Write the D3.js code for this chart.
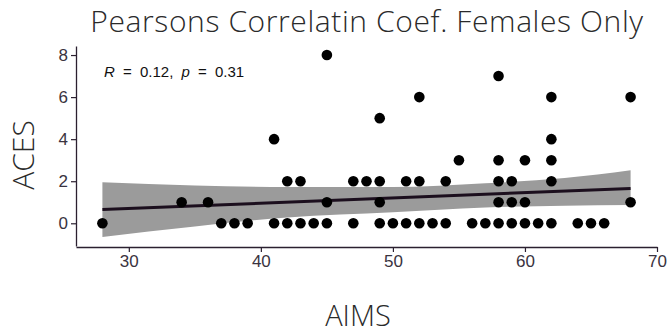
<!doctype html>
<html>
  <head>
    <meta charset="utf-8">
    <title>Pearsons Correlatin Coef. Females Only</title>
    <style>
      body { margin: 0; background: #fff; }
      .tick text { font-family: "Liberation Sans", Arial, sans-serif; font-size: 17px; fill: #3a3340; }
      .label { font-family: "Open Sans", sans-serif; font-weight: 300; fill: #2a2a2a; }
    </style>
    <script src="https://cdnjs.cloudflare.com/ajax/libs/d3/7.8.5/d3.min.js"></script>
  </head>
  <body>
    <div id="chart"></div>
    <script>
      // AIMS (x) and ACES (y) for each respondent
      const aims = [28, 37, 38, 39, 41, 42, 43, 44, 45, 47, 49, 50, 51, 52, 53, 54, 56, 57, 58, 59, 60, 61, 62, 64, 65, 66,
                    34, 36, 45, 49, 58, 59, 60, 68,
                    42, 43, 47, 48, 49, 51, 52, 54, 58, 59, 62,
                    55, 58, 60, 62,
                    41, 62,
                    49,
                    52, 62, 68,
                    58,
                    45];
      const aces = [0, 0, 0, 0, 0, 0, 0, 0, 0, 0, 0, 0, 0, 0, 0, 0, 0, 0, 0, 0, 0, 0, 0, 0, 0, 0,
                    1, 1, 1, 1, 1, 1, 1, 1,
                    2, 2, 2, 2, 2, 2, 2, 2, 2, 2, 2,
                    3, 3, 3, 3,
                    4, 4,
                    5,
                    6, 6, 6,
                    7,
                    8];

      // linear fit and its 95% band
      const fitX = [28, 68];
      const fitY = [0.65, 1.66];
      const bandX = [28, 35, 42, 50, 57, 63, 68];
      const bandLo = [-0.65, -0.15, 0.28, 0.52, 0.75, 0.83, 0.87];
      const bandHi = [1.95, 1.8, 1.72, 1.72, 1.9, 2.15, 2.52];

      const xTicks = [30, 40, 50, 60, 70];
      const yTicks = [0, 2, 4, 6, 8];

      const width = 668, height = 333;
      const svg = d3.select('#chart').append('svg')
        .attr('width', width)
        .attr('height', height);

      const x = d3.scaleLinear().domain([26, 70]).range([76, 657]);
      const y = d3.scaleLinear().domain([-1.08, 8.43]).range([246, 46]);

      const band = bandX.map((v, i) => ({ x: v, lo: bandLo[i], hi: bandHi[i] }));
      svg.append('path')
        .datum(band)
        .attr('fill', '#9b9b9b')
        .attr('d', d3.area()
          .curve(d3.curveMonotoneX)
          .x(d => x(d.x))
          .y0(d => y(d.lo))
          .y1(d => y(d.hi)));

      svg.append('line')
        .attr('x1', x(fitX[0])).attr('y1', y(fitY[0]))
        .attr('x2', x(fitX[1])).attr('y2', y(fitY[1]))
        .attr('stroke', '#1c0f1e')
        .attr('stroke-width', 3);

      svg.selectAll('circle')
        .data(aims)
        .enter()
        .append('circle')
        .attr('cx', d => x(d))
        .attr('cy', (d, i) => y(aces[i]))
        .attr('r', 5.3)
        .attr('fill', '#000');

      const xAxis = svg.append('g')
        .attr('transform', 'translate(0,247)')
        .call(d3.axisBottom(x).tickValues(xTicks).tickSize(5).tickPadding(3).tickSizeOuter(0));
      const yAxis = svg.append('g')
        .attr('transform', 'translate(76,0)')
        .call(d3.axisLeft(y).tickValues(yTicks).tickSize(5).tickPadding(3).tickSizeOuter(0));
      [xAxis, yAxis].forEach(g => {
        g.select('.domain').attr('stroke', '#2b2030').attr('stroke-width', 1.3);
        g.selectAll('.tick line').attr('stroke', '#2b2030').attr('stroke-width', 1.2);
      });

      // R / p annotation
      const ann = svg.append('text')
        .attr('x', 104).attr('y', 77)
        .style('font-family', '"Liberation Sans", Arial, sans-serif')
        .style('font-size', '15px')
        .style('word-spacing', '4px')
        .style('fill', '#111');
      ann.append('tspan').style('font-style', 'italic').text('R');
      ann.append('tspan').text(' = 0.12, ');
      ann.append('tspan').style('font-style', 'italic').text('p');
      ann.append('tspan').text(' = 0.31');

      svg.append('text')
        .attr('class', 'label')
        .attr('x', 367).attr('y', 32)
        .attr('text-anchor', 'middle')
        .style('font-size', '30px')
        .style('letter-spacing', '0.6px')
        .text('Pearsons Correlatin Coef. Females Only');

      svg.append('text')
        .attr('class', 'label')
        .attr('x', 358).attr('y', 326)
        .attr('text-anchor', 'middle')
        .style('font-size', '29px')
        .text('AIMS');

      svg.append('text')
        .attr('class', 'label')
        .attr('transform', 'translate(34,155) rotate(-90)')
        .attr('text-anchor', 'middle')
        .style('font-size', '30px')
        .text('ACES');
    </script>
  </body>
</html>
